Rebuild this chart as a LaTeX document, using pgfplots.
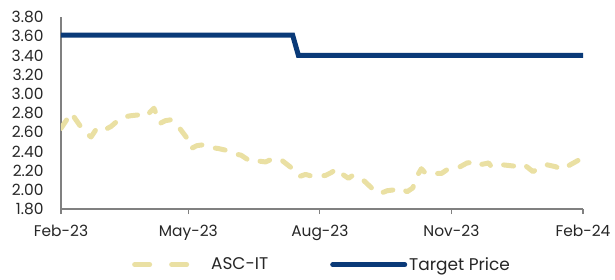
\documentclass[border=0pt]{standalone}
\usepackage{fontspec}
\setmainfont{Poppins}
\usepackage{pgfplots}
\pgfplotsset{compat=1.18}
\definecolor{khaki}{HTML}{EAE0A3}
\definecolor{navy}{HTML}{0A3A78}
\definecolor{axgray}{HTML}{808080}
\pgfplotstableread{
day price
0 2.64
4 2.73
7 2.69
9 2.76
16 2.61
21 2.55
25 2.64
30 2.62
35 2.66
42 2.75
48 2.77
54 2.78
59 2.76
65 2.85
69 2.69
73 2.72
77 2.73
83 2.64
89 2.52
91 2.43
95 2.46
100 2.47
105 2.44
110 2.43
116 2.41
120 2.38
126 2.36
129 2.33
133 2.29
138 2.30
143 2.29
146 2.31
151 2.33
155 2.30
161 2.23
164 2.17
167 2.14
171 2.16
176 2.14
180 2.14
185 2.15
189 2.18
193 2.22
197 2.16
201 2.12
204 2.15
210 2.12
215 2.05
220 1.98
223 1.96
228 1.99
233 2.00
237 2.02
242 1.98
246 2.02
248 2.12
252 2.22
255 2.17
259 2.17
262 2.17
266 2.17
270 2.21
274 2.22
279 2.24
284 2.28
290 2.29
292 2.26
296 2.27
299 2.28
301 2.24
309 2.26
315 2.25
321 2.24
324 2.26
330 2.19
335 2.23
340 2.26
346 2.24
350 2.21
356 2.26
362 2.31
365 2.28
}\asctable
\pgfplotstableread{
day tp
0 3.61
162 3.61
166 3.40
365 3.40
}\tptable
\begin{document}
\begin{tikzpicture}
\begin{axis}[
  scale only axis, width=522bp, height=192bp,
  xmin=0, xmax=365, ymin=1.8, ymax=3.8,
  axis x line*=bottom, axis y line*=left,
  axis line style={axgray, line width=1.2bp},
  xtick={0,89,181,273,365},
  xticklabels={Feb-23,May-23,Aug-23,Nov-23,Feb-24},
  ytick={1.8,2.0,2.2,2.4,2.6,2.8,3.0,3.2,3.4,3.6,3.8},
  yticklabel style={/pgf/number format/fixed, /pgf/number format/fixed zerofill, /pgf/number format/precision=2, xshift=-9bp},
  /pgf/number format/assume math mode=true,
  tick align=outside,
  major tick length=5bp,
  xtick style={axgray, line width=1.2bp},
  ytick style={draw=none},
  tick label style={font=\fontsize{15.5}{17}\selectfont, text=black!85},
  xticklabel style={yshift=-8bp},
  legend style={at={(0.5,-0.29)}, anchor=center, draw=none, font=\fontsize{17}{19}\selectfont, text=black!85},
  legend columns=2,
  legend cell align=left,
  /tikz/every even column/.append style={column sep=60bp},
  legend image code/.code={\draw[#1] (0bp,0bp) -- (72bp,0bp);},
]
\addplot[khaki, line width=5bp, line cap=round, line join=round, dash pattern=on 10bp off 14bp,
  legend image post style={dash pattern=on 15bp off 22bp}] table[x=day, y=price] {\asctable};
\addlegendentry{ASC-IT}
\addplot[navy, line width=5bp, line cap=round] table[x=day, y=tp] {\tptable};
\addlegendentry{Target Price}
\end{axis}
\path ([shift={(-61bp,-71bp)}]current axis.south west) rectangle ([shift={(32bp,17bp)}]current axis.north east);
\end{tikzpicture}
\end{document}
